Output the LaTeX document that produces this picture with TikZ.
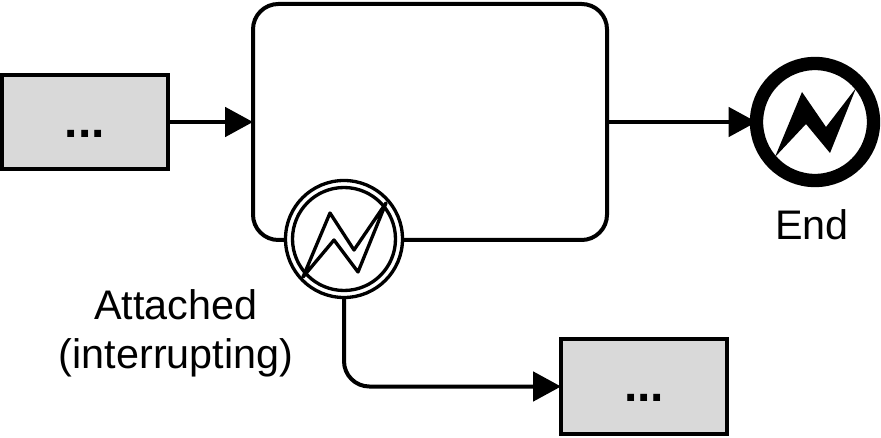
\documentclass[tikz,border=0pt]{standalone}
\usepackage{fontspec}
\setmainfont{Liberation Sans}
\usetikzlibrary{arrows.meta}
\tikzset{
  every node/.style={outer sep=0pt},
  line/.style={line width=3pt,draw=black},
  flow/.style={line,-{Triangle[length=21pt,width=22pt]}},
  act/.style={line,fill=black!15,rectangle,minimum width=124.5pt,minimum height=71pt,inner sep=0pt,text height=23pt,text depth=0pt,font=\fontsize{36}{36}\selectfont\bfseries},
  task/.style={line,fill=white,rectangle,rounded corners=19pt,minimum width=265.5pt,minimum height=177pt,inner sep=0pt},
  ring/.style={circle,inner sep=0pt,draw=black},
  lab/.style={align=center,inner sep=0pt,font=\fontsize{31}{37}\selectfont},
  bolt/.style={line join=round,draw=black}
}
\begin{document}
\begin{tikzpicture}[x=0.75pt,y=-0.75pt]
\useasboundingbox (0,0) rectangle (881,438);
\node[act] (b1) at (85,122) {...};
\node[act] (b2) at (644,386.5) {...};
\node[task] (t) at (430,122) {};
\node[ring,line width=2.5pt,fill=white,minimum size=87.75pt] (att) at (344,239) {};
\node[ring,line width=2.5pt,minimum size=77.25pt] (atti) at (att) {};
\draw[bolt,line width=2.5pt] (303,277) -- (330,213) -- (354,250) -- (386,203) -- (358,272) -- (334,240) -- cycle;
\node[ring,line width=10pt,fill=white,minimum size=87.75pt] (e) at (815,122) {};
\fill (775,157) -- (802,92) -- (826,127) -- (856,88) -- (830,153) -- (806,124) -- cycle;
\node[lab] (lend) at (812,225) {End};
\node[lab] (lat) at (176,333) {Attached\\(interrupting)};
\draw[flow] (b1.east) -- (t.west);
\draw[flow] (t.east) -- (e.west);
\draw[flow,rounded corners=19pt] (att.south) |- (b2.west);
\end{tikzpicture}
\end{document}
